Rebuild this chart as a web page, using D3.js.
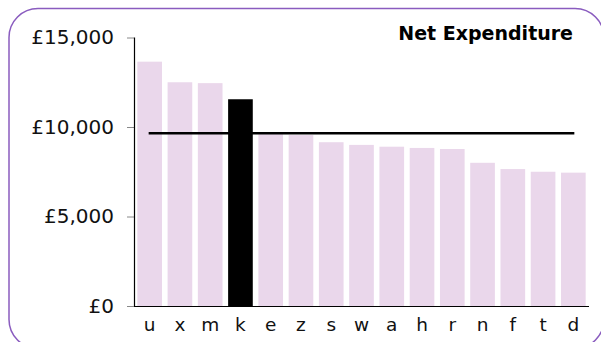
<!DOCTYPE html>
<html>
<head>
<meta charset="utf-8">
<script src="https://cdn.jsdelivr.net/npm/d3@7"></script>
<style>
  html, body { margin: 0; padding: 0; background: #fff; overflow: hidden; }
  svg { display: block; font-family: "DejaVu Sans", Verdana, sans-serif; }
</style>
</head>
<body>
<svg id="chart" width="601" height="342"></svg>
<script>
// Net expenditure by area, sorted descending; "k" is the highlighted area.
const categories = ["u", "x", "m", "k", "e", "z", "s", "w", "a", "h", "r", "n", "f", "t", "d"];
const values = [13650, 12500, 12450, 11550, 9600, 9550, 9150, 9000, 8900, 8830, 8770, 8000, 7650, 7500, 7450];
const highlight = "k";
const average = 9650;
const yTicks = [0, 5000, 10000, 15000];
const title = "Net Expenditure";

const svg = d3.select("#chart");

// rounded frame (right and bottom edges run just past the canvas)
svg.append("rect")
  .attr("x", 9).attr("y", 8.5)
  .attr("width", 595).attr("height", 340)
  .attr("rx", 29).attr("ry", 29)
  .attr("fill", "none")
  .attr("stroke", "#8a5cbf")
  .attr("stroke-width", 1.5);

const plotLeft = 134, plotRight = 589, plotTop = 37.5, plotBottom = 306;

const x = d3.scaleBand()
  .domain(categories)
  .range([plotLeft, plotRight])
  .paddingInner(0.185)
  .paddingOuter(0.11);

const y = d3.scaleLinear()
  .domain([0, 15000])
  .range([plotBottom, plotTop]);

// bars
svg.append("g")
  .selectAll("rect")
  .data(categories.map((c, i) => ({ c, v: values[i] })))
  .join("rect")
  .attr("x", d => x(d.c))
  .attr("y", d => y(d.v))
  .attr("width", x.bandwidth())
  .attr("height", d => y(0) - y(d.v))
  .attr("fill", d => d.c === highlight ? "#000" : "#ead7eb");

// average line
const c0 = x(categories[0]) + x.bandwidth() / 2 - 1;
const c1 = x(categories[categories.length - 1]) + x.bandwidth() / 2 + 1;
svg.append("line")
  .attr("x1", c0).attr("x2", c1)
  .attr("y1", y(average)).attr("y2", y(average))
  .attr("stroke", "#000")
  .attr("stroke-width", 2.5);

// y axis
const fmt = d => "£" + d3.format(",")(d);
const yAxis = svg.append("g")
  .attr("transform", `translate(${plotLeft},0)`)
  .call(d3.axisLeft(y).tickValues(yTicks).tickFormat(fmt).tickSize(7).tickPadding(13));
yAxis.select(".domain").remove();
yAxis.selectAll(".tick line").attr("stroke", "#888");
yAxis.selectAll(".tick text")
  .attr("font-size", 20)
  .attr("font-family", "DejaVu Sans, Verdana, sans-serif")
  .attr("fill", "#111");
svg.append("line")
  .attr("x1", plotLeft + 0.5).attr("x2", plotLeft + 0.5)
  .attr("y1", plotTop).attr("y2", plotBottom)
  .attr("stroke", "#000").attr("stroke-width", 1.2);

// x axis
const xAxis = svg.append("g")
  .attr("transform", `translate(0,${plotBottom})`)
  .call(d3.axisBottom(x).tickSize(0).tickPadding(12));
xAxis.select(".domain").remove();
xAxis.selectAll(".tick text")
  .attr("font-size", 18.5)
  .attr("font-family", "DejaVu Sans, Verdana, sans-serif")
  .attr("fill", "#111");
svg.append("line")
  .attr("x1", plotLeft).attr("x2", plotRight)
  .attr("y1", plotBottom + 0.5).attr("y2", plotBottom + 0.5)
  .attr("stroke", "#000").attr("stroke-width", 1.2);

// title
svg.append("text")
  .attr("x", 573).attr("y", 39.5)
  .attr("text-anchor", "end")
  .attr("font-size", 19)
  .attr("font-weight", "bold")
  .attr("fill", "#000")
  .text(title);
</script>
</body>
</html>
